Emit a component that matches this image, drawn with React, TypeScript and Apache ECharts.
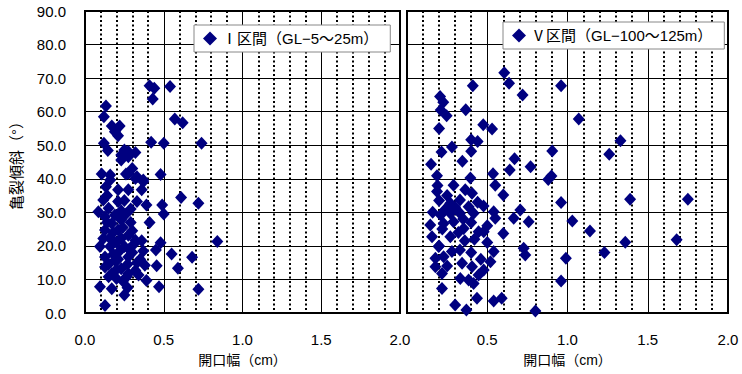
import React, { useEffect, useRef } from "react";
import * as echarts from "echarts";

const seriesNameI = "Ⅰ区間（GL−5～25m）";
const seriesNameV = "Ⅴ区間（GL−100～125m）";
const xTicks = [0, 0.5, 1.0, 1.5, 2.0];
const yTicks = [0, 10, 20, 30, 40, 50, 60, 70, 80, 90];

// Ⅰ区間 : [開口幅 (cm), 亀裂傾斜 (°)]
const dataI: number[][] = [
  [0.133, 61.7], [0.12, 58.5], [0.41, 67.7], [0.44, 67], [0.43, 63.8], [0.54, 67.5], [0.57, 57.8], [0.62, 56.7],
  [0.17, 55.7], [0.22, 55.7], [0.19, 54], [0.21, 52.8], [0.12, 50.6], [0.145, 48.4], [0.42, 50.9], [0.5, 50.6], [0.74, 50.6],
  [0.25, 48.6], [0.23, 47.1], [0.23, 45.6], [0.275, 48.1], [0.32, 47.8], [0.3, 43.1], [0.275, 46.6],
  [0.106, 41.4], [0.16, 41.1], [0.26, 41.4], [0.32, 40.1], [0.37, 39.6], [0.48, 41.3],
  [0.275, 41.6], [0.33, 40.6], [0.37, 39.1], [0.16, 39.6], [0.21, 36.7], [0.275, 36.7], [0.36, 36.7], [0.133, 37.6],
  [0.116, 33.7], [0.21, 33.2], [0.33, 33.2], [0.39, 32.2], [0.49, 32.2], [0.61, 34.4], [0.72, 32.7], [0.5, 29.5],
  [0.085, 30.2], [0.15, 31.2], [0.127, 28.7], [0.19, 29.2], [0.23, 27.7], [0.17, 26.7], [0.41, 27.0],
  [0.127, 24.7], [0.21, 24.7], [0.275, 23.2], [0.116, 22.2], [0.17, 21.7], [0.23, 22.2], [0.32, 21.7], [0.36, 21.5],
  [0.095, 19.8], [0.16, 19.8], [0.25, 19.8], [0.48, 20.9], [0.84, 21.3], [0.45, 18.8], [0.55, 17.6], [0.68, 16.6],
  [0.127, 16.7], [0.19, 15.7], [0.275, 16.7], [0.35, 16.0], [0.38, 14.2], [0.455, 14.1], [0.59, 13.3],
  [0.127, 13.7], [0.17, 11.7], [0.23, 13.2], [0.275, 11.7], [0.32, 12.7], [0.15, 10.8], [0.2, 10.3], [0.265, 10.8],
  [0.34, 11.3], [0.39, 9.7], [0.47, 7.8], [0.095, 7.8], [0.17, 7.2], [0.27, 7.5], [0.25, 5.4], [0.127, 2.2], [0.72, 7.1],
  [0.14, 27.0], [0.18, 24.0], [0.2, 21.0], [0.24, 25.5], [0.26, 29.5], [0.29, 27.0], [0.3, 24.5], [0.22, 18.5],
  [0.27, 14.5], [0.3, 18.0], [0.18, 17.5], [0.15, 14.5], [0.2, 13.0], [0.33, 15.0], [0.23, 30.5], [0.14, 35.0],
  [0.25, 33.5], [0.29, 31.0], [0.31, 20.5], [0.37, 18.5], [0.24, 9.5], [0.21, 16.0], [0.16, 22.5], [0.28, 19.0],
];

// Ⅴ区間 : [開口幅 (cm), 亀裂傾斜 (°)]
const dataV: number[][] = [
  [0.606, 71.6], [0.636, 68.5], [0.41, 67.7], [0.72, 65], [0.96, 67.7], [0.206, 64.5], [0.226, 62.8], [0.21, 60.5],
  [0.366, 60.6], [0.247, 58.8], [0.2, 55], [0.475, 56.1], [0.53, 54.8], [0.4, 51.6], [0.44, 51.1], [0.28, 49.5],
  [0.215, 48], [0.4, 48.2], [0.905, 48.3], [0.15, 44.3], [0.345, 45.2], [0.67, 46], [0.64, 42.6], [0.77, 43.6],
  [0.187, 40.9], [0.395, 40.2], [0.536, 41.5], [0.9, 40.8], [0.88, 39.8],
  [1.07, 57.8], [1.33, 51.3], [1.26, 47.3],
  [0.96, 32.9], [1.39, 33.9], [1.75, 33.9], [1.03, 27.4], [1.14, 24.4], [1.36, 21.1], [1.68, 21.8], [1.23, 18.0],
  [0.99, 16.3], [0.96, 9.5], [0.8, 0.6],
  [0.187, 36.2], [0.29, 38.1], [0.363, 36.7], [0.405, 35.7], [0.55, 38.1], [0.6, 35.2], [0.27, 32.7], [0.33, 33.7],
  [0.384, 31.7], [0.477, 31.9], [0.54, 30.2], [0.21, 29.2], [0.27, 29.7], [0.33, 29.7], [0.415, 29.7], [0.55, 28.2],
  [0.706, 30.7], [0.665, 28.2], [0.758, 27.2], [0.145, 26.2], [0.228, 26.7], [0.29, 27.2], [0.353, 25.2], [0.446, 24.2],
  [0.478, 24.2], [0.6, 23.7], [0.156, 22.7], [0.27, 22.7], [0.197, 19.8], [0.28, 18.3], [0.33, 18.8], [0.54, 18.3],
  [0.727, 19.3], [0.737, 17.3], [0.177, 16.3], [0.228, 16.8], [0.343, 14.8], [0.177, 13.8], [0.218, 11.8], [0.405, 13.8],
  [0.52, 15.3], [0.478, 12.8], [0.446, 11.3], [0.332, 10.3], [0.384, 9.8], [0.415, 8.8], [0.218, 7.3], [0.436, 4.4],
  [0.3, 2.4], [0.54, 3.6], [0.59, 4.4], [0.37, 0.9],
  [0.2, 33.5], [0.25, 35], [0.3, 31.5], [0.35, 28], [0.4, 27], [0.24, 31], [0.19, 38], [0.22, 25], [0.32, 24],
  [0.36, 21.5], [0.42, 22], [0.5, 21], [0.46, 16], [0.4, 18], [0.25, 14], [0.2, 20], [0.16, 30], [0.44, 33], [0.5, 26],
];

const FONT = "'Liberation Sans', 'Noto Sans CJK JP', sans-serif";
const NAVY = "#000080";

function makeX(gridIndex: number, showMin: boolean) {
  return {
    type: "value",
    gridIndex,
    min: xTicks[0],
    max: xTicks[xTicks.length - 1],
    interval: xTicks[1] - xTicks[0],
    name: "開口幅（cm）",
    nameLocation: "middle",
    nameGap: 40,
    nameTextStyle: { fontSize: 14, color: "#000", fontFamily: FONT },
    axisLine: { show: true, lineStyle: { color: "#000", width: 2 } },
    axisTick: { show: false },
    axisLabel: {
      fontSize: 15,
      color: "#000",
      fontFamily: FONT,
      margin: 19,
      showMinLabel: showMin,
      formatter: (v: number) => v.toFixed(1),
    },
    splitLine: { show: true, lineStyle: { color: "#000", width: 1 } },
    minorTick: { show: false, splitNumber: 5 },
    minorSplitLine: { show: true, lineStyle: { color: "#000", width: 2, type: [2, 2.5] } },
  };
}

function makeY(gridIndex: number, showLabels: boolean) {
  return {
    type: "value",
    gridIndex,
    min: yTicks[0],
    max: yTicks[yTicks.length - 1],
    interval: yTicks[1] - yTicks[0],
    name: showLabels ? "亀裂傾斜（°）" : "",
    nameLocation: "middle",
    nameGap: 61,
    nameTextStyle: { fontSize: 15, color: "#000", fontFamily: FONT },
    axisLine: { show: true, lineStyle: { color: "#000", width: 2 } },
    axisTick: { show: false },
    axisLabel: {
      show: showLabels,
      fontSize: 15,
      color: "#000",
      fontFamily: FONT,
      margin: 19,
      formatter: (v: number) => v.toFixed(1),
    },
    splitLine: { show: true, lineStyle: { color: "#000", width: 1 } },
  };
}

function makeLegend(name: string, left: number, top: number, padRight: number) {
  return {
    data: [name],
    left,
    top,
    orient: "horizontal",
    icon: "diamond",
    itemWidth: 14,
    itemHeight: 14,
    backgroundColor: "#fff",
    borderColor: "#888",
    borderWidth: 1,
    padding: [6, padRight, 6, 9],
    textStyle: { fontSize: 15, color: "#000", fontFamily: FONT },
  };
}

export default function App() {
  const ref = useRef<HTMLDivElement>(null);
  useEffect(() => {
    if (!ref.current) return;
    const chart = echarts.init(ref.current, null, { renderer: "svg" });
    chart.setOption({
      animation: false,
      backgroundColor: "#fff",
      grid: [
        { left: 85, top: 11, width: 315, height: 302, show: true, borderColor: "#000", borderWidth: 2, backgroundColor: "#fff" },
        { left: 407, top: 11, width: 321, height: 302, show: true, borderColor: "#000", borderWidth: 2, backgroundColor: "#fff" },
      ],
      xAxis: [makeX(0, true), makeX(1, false)],
      yAxis: [makeY(0, true), makeY(1, false)],
      legend: [makeLegend(seriesNameI, 194, 25, 12), makeLegend(seriesNameV, 503, 22, 12)],
      series: [
        {
          name: seriesNameI,
          type: "scatter",
          xAxisIndex: 0,
          yAxisIndex: 0,
          symbol: "diamond",
          symbolSize: [12, 13],
          itemStyle: { color: NAVY, opacity: 1 },
          data: dataI,
        },
        {
          name: seriesNameV,
          type: "scatter",
          xAxisIndex: 1,
          yAxisIndex: 1,
          symbol: "diamond",
          symbolSize: [12, 13],
          itemStyle: { color: NAVY, opacity: 1 },
          data: dataV,
        },
      ],
    });
    return () => chart.dispose();
  }, []);
  return (
    <div
      ref={ref}
      style={{ position: "fixed", left: 0, top: 0, width: 742, height: 374, background: "#fff" }}
    />
  );
}
